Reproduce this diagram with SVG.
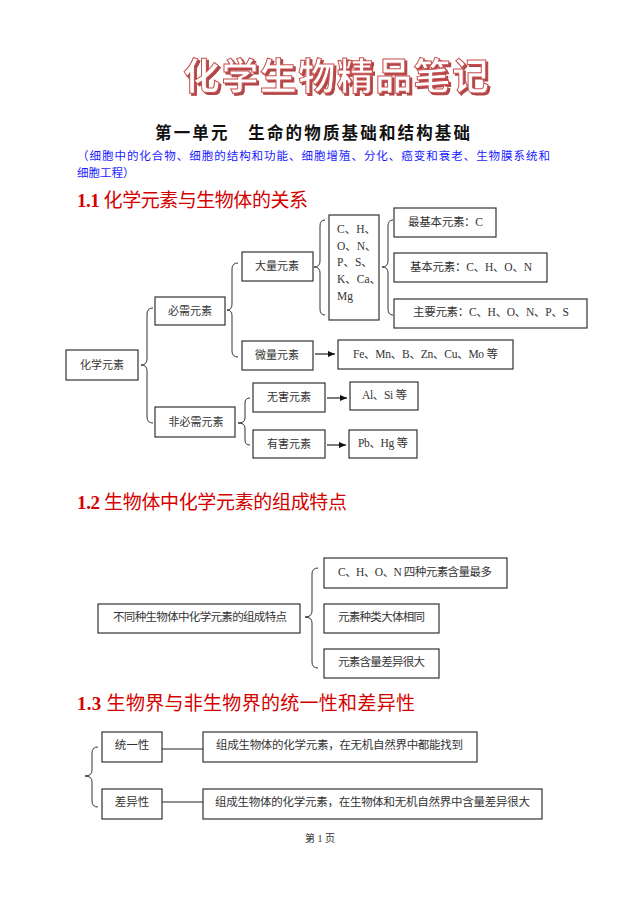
<svg xmlns="http://www.w3.org/2000/svg" width="640" height="905" viewBox="0 0 640 905">
<style>
.box{fill:#fff;stroke:#333;stroke-width:1.2}
.br{fill:none;stroke:#333;stroke-width:1}
.ln{fill:none;stroke:#222;stroke-width:1.2}
.t{font-family:"Liberation Serif","Noto Sans CJK SC",serif;font-size:11.5px;fill:#333}
.s{font-size:11px}
.tc{text-anchor:middle}
.h{font-family:"Liberation Serif","Noto Sans CJK SC",serif;font-size:19px;fill:#d40000}
</style>
<defs>
<marker id="ar" markerWidth="8" markerHeight="8" refX="7" refY="4" orient="auto" markerUnits="userSpaceOnUse">
<path d="M0,1 L7,4 L0,7 Z" fill="#111"/>
</marker>
<filter id="sh" x="-5%" y="-20%" width="110%" height="140%">
<feOffset in="SourceAlpha" dx="2" dy="2" result="o"/>
<feFlood flood-color="#b04545"/>
<feComposite in2="o" operator="in" result="s"/>
<feMerge><feMergeNode in="s"/><feMergeNode in="SourceGraphic"/></feMerge>
</filter>
</defs>
<rect width="640" height="905" fill="#fff"/>

<g id="title">
<text x="183" y="90" textLength="306" lengthAdjust="spacing" font-family="Noto Sans CJK SC,sans-serif" font-size="37" font-weight="bold" fill="#fff" stroke="#c85050" stroke-width="1" filter="url(#sh)">化学生物精品笔记</text>
</g>
<text x="155" y="139" textLength="315" lengthAdjust="spacing" font-family="Noto Sans CJK SC,sans-serif" font-size="16.5" font-weight="bold" fill="#111">第一单元　生命的物质基础和结构基础</text>
<text font-family="Noto Sans CJK SC,sans-serif" font-size="11.5" fill="#1a1aff"><tspan x="77" y="160" textLength="473" lengthAdjust="spacing">（细胞中的化合物、细胞的结构和功能、细胞增殖、分化、癌变和衰老、生物膜系统和</tspan><tspan x="77" y="177">细胞工程）</tspan></text>

<text class="h" x="77" y="207" textLength="231" lengthAdjust="spacing"><tspan font-weight="bold">1.1</tspan> 化学元素与生物体的关系</text>
<text class="h" x="77" y="509" textLength="270" lengthAdjust="spacing"><tspan font-weight="bold">1.2</tspan> 生物体中化学元素的组成特点</text>
<text class="h" x="77" y="710" textLength="338" lengthAdjust="spacing"><tspan font-weight="bold">1.3</tspan> 生物界与非生物界的统一性和差异性</text>

<g id="connectors">
<path class="br" d="M153,308 Q147,308 147,314 L147,359 Q147,365 141,365 Q147,365 147,371 L147,417 Q147,423 153,423"/>
<path class="br" d="M238,263 Q232,263 232,269 L232,304 Q232,310 227,310 Q232,310 232,316 L232,351 Q232,357 238,357"/>
<path class="br" d="M250,398 Q245,398 245,403 L245,418 Q245,423 238,423 Q245,423 245,428 L245,440 Q245,445 250,445"/>
<path class="br" d="M325,220 Q320,220 320,226 L320,261 Q320,267 314,267 Q320,267 320,273 L320,309 Q320,315 325,315"/>
<path class="br" d="M393,220 Q388,220 388,226 L388,261 Q388,267 382,267 Q388,267 388,273 L388,309 Q388,315 393,315"/>
<path class="br" d="M318,568 Q312,568 312,574 L312,611 Q312,617 305,617 Q312,617 312,623 L312,662 Q312,668 318,668"/>
<path class="br" d="M98,747 Q92,747 92,753 L92,770 Q92,776 85,776 Q92,776 92,782 L92,801 Q92,807 98,807"/>
<line class="ln" x1="315" y1="354" x2="335" y2="354" marker-end="url(#ar)"/>
<line class="ln" x1="327" y1="398" x2="347" y2="398" marker-end="url(#ar)"/>
<line class="ln" x1="327" y1="445" x2="346" y2="445" marker-end="url(#ar)"/>
<line class="ln" x1="162" y1="749" x2="203" y2="749"/>
<line class="ln" x1="162" y1="802" x2="203" y2="802"/>
</g>

<g id="n-hxys"><rect class="box" x="66" y="350" width="72" height="30"/><text class="t s tc" x="102" y="369">化学元素</text></g>
<g id="n-bx"><rect class="box" x="155" y="297" width="70" height="28"/><text class="t s tc" x="190" y="315">必需元素</text></g>
<g id="n-fbx"><rect class="box" x="155" y="407" width="80" height="30"/><text class="t s tc" x="196" y="426">非必需元素</text></g>
<g id="n-dl"><rect class="box" x="242" y="252" width="71" height="29"/><text class="t s tc" x="277" y="270">大量元素</text></g>
<g id="n-wl"><rect class="box" x="242" y="341" width="71" height="29"/><text class="t s tc" x="277" y="359">微量元素</text></g>
<g id="n-wh"><rect class="box" x="253" y="383" width="72" height="29"/><text class="t s tc" x="289" y="401">无害元素</text></g>
<g id="n-yh"><rect class="box" x="253" y="430" width="72" height="28"/><text class="t s tc" x="289" y="448">有害元素</text></g>
<g id="n-list"><rect class="box" x="329" y="215" width="50" height="105"/>
<text class="t" x="337" y="233">C、H、</text>
<text class="t" x="337" y="250">O、N、</text>
<text class="t" x="337" y="266">P、S、</text>
<text class="t" x="337" y="283">K、Ca、</text>
<text class="t" x="337" y="300">Mg</text></g>
<g id="n-zjb"><rect class="box" x="394" y="208" width="102" height="29"/><text class="t" x="408" y="226" textLength="75" lengthAdjust="spacing">最基本元素：C</text></g>
<g id="n-jb"><rect class="box" x="394" y="253" width="153" height="29"/><text class="t" x="410" y="271" textLength="122" lengthAdjust="spacing">基本元素：C、H、O、N</text></g>
<g id="n-zy"><rect class="box" x="394" y="299" width="193" height="29"/><text class="t" x="413" y="316" textLength="156" lengthAdjust="spacing">主要元素：C、H、O、N、P、S</text></g>
<g id="n-fe"><rect class="box" x="338" y="340" width="175" height="29"/><text class="t" x="353" y="358" textLength="145" lengthAdjust="spacing">Fe、Mn、B、Zn、Cu、Mo 等</text></g>
<g id="n-al"><rect class="box" x="350" y="382" width="68" height="28"/><text class="t" x="362" y="399" textLength="45" lengthAdjust="spacing">Al、Si 等</text></g>
<g id="n-pb"><rect class="box" x="349" y="430" width="68" height="28"/><text class="t" x="358" y="447" textLength="50" lengthAdjust="spacing">Pb、Hg 等</text></g>

<g id="n-btz"><rect class="box" x="98" y="604" width="202" height="29"/><text class="t" x="113" y="621" font-size="10.8" textLength="174" lengthAdjust="spacing">不同种生物体中化学元素的组成特点</text></g>
<g id="n-c1"><rect class="box" x="324" y="558" width="183" height="30"/><text class="t" x="338" y="576" textLength="154" lengthAdjust="spacing">C、H、O、N 四种元素含量最多</text></g>
<g id="n-c2"><rect class="box" x="324" y="604" width="115" height="29"/><text class="t" x="338" y="621" font-size="10.8" textLength="87" lengthAdjust="spacing">元素种类大体相同</text></g>
<g id="n-c3"><rect class="box" x="324" y="649" width="115" height="29"/><text class="t" x="338" y="666" font-size="10.8" textLength="87" lengthAdjust="spacing">元素含量差异很大</text></g>

<g id="n-tyx"><rect class="box" x="102" y="732" width="60" height="30"/><text class="t tc" x="132" y="749">统一性</text></g>
<g id="n-cyx"><rect class="box" x="102" y="789" width="60" height="30"/><text class="t tc" x="132" y="806">差异性</text></g>
<g id="n-d1"><rect class="box" x="203" y="732" width="274" height="30"/><text class="t" x="216" y="749" font-size="11" textLength="247" lengthAdjust="spacing">组成生物体的化学元素，在无机自然界中都能找到</text></g>
<g id="n-d2"><rect class="box" x="203" y="789" width="339" height="30"/><text class="t" x="215" y="806" font-size="11" textLength="315" lengthAdjust="spacing">组成生物体的化学元素，在生物体和无机自然界中含量差异很大</text></g>

<text x="320" y="842" text-anchor="middle" font-family="Liberation Serif,Noto Sans CJK SC,serif" font-size="10" fill="#333">第 1 页</text>
</svg>
